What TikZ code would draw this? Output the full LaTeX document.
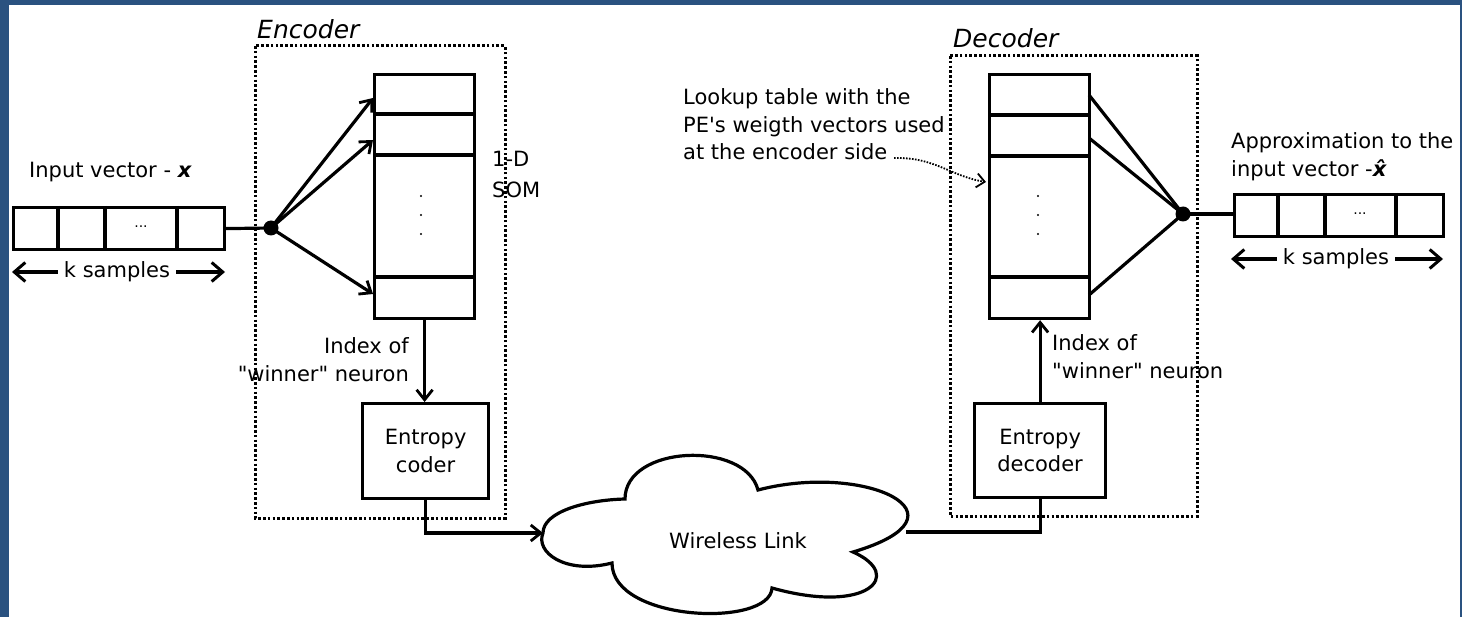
\documentclass[tikz,border=0pt]{standalone}
\usepackage{fontspec}
\setmainfont{DejaVu Sans}
\usetikzlibrary{arrows.meta}
\definecolor{framecol}{RGB}{42,82,128}
\begin{document}
\begin{tikzpicture}[x=1pt,y=-1pt,
  box/.style={draw, line width=3.2pt, inner sep=0pt, anchor=north west, align=center,
              font=\fontsize{21}{27.5}\selectfont},
  conn/.style={line width=3.2pt},
  divider/.style={line width=3.2pt},
  arr/.style={conn, -{Straight Barb[length=10pt,width=16pt,line width=2.8pt]}},
  bigarr/.style={line width=3.2pt, -{Straight Barb[length=11pt,width=19pt,line width=3pt]}},
  dotbox/.style={line width=3pt, dash pattern=on 2.6pt off 2.2pt},
  lbl/.style={inner sep=0pt, font=\fontsize{21}{27.5}\selectfont},
  title/.style={inner sep=0pt, font=\fontsize{25}{30}\selectfont\itshape},
  tiny/.style={inner sep=0pt, font=\fontsize{14}{15}\selectfont},
  junction/.style={circle, fill, inner sep=0pt, minimum size=15pt}
]
\useasboundingbox (0,0) rectangle (1462,617);
\fill[framecol] (0,0) rectangle (1462,617);
\fill[white] (9,5) rectangle (1460,617);

% ---------------- Encoder side ----------------
\draw[dotbox] (255,46) rectangle (505,518);
\node[title, anchor=west] (enctitle) at (257,29) {Encoder};

% input vector
\node[box, minimum width=211pt, minimum height=42pt] (inv) at (12,206) {};
\draw[divider] (58,206) -- (58,248);
\draw[divider] (105,206) -- (105,248);
\draw[divider] (177,206) -- (177,248);
\node[tiny] (invdots) at (141,227) {...};
\node[lbl, anchor=base west] (invlbl) at (29,178) {Input vector - \textbf{\textit{x}}};
\node[lbl] (ksamp1) at (117,272) {k samples};
\coordinate (k1l) at (12,272);
\coordinate (k1r) at (225,272);
\draw[bigarr] (ksamp1.west) ++(-6,0) -- (k1l);
\draw[bigarr] (ksamp1.east) ++(6,0) -- (k1r);

% junction
\node[junction] (split) at (271,228) {};
\draw[conn] (inv.east) -- (split.center);

% encoder SOM
\node[box, minimum width=100pt, minimum height=244pt] (esom) at (373,73) {};
\draw[divider] (373,114) -- (473,114);
\draw[divider] (373,155) -- (473,155);
\draw[divider] (373,277) -- (473,277);
\fill (421,196) circle (1.2pt) (421,215) circle (1.2pt) (421,234) circle (1.2pt);
\coordinate (e1) at (373,98);
\coordinate (e2) at (373,140);
\coordinate (e3) at (373,294);
\draw[arr] (split.center) -- (e1);
\draw[arr] (split.center) -- (e2);
\draw[arr] (split.center) -- (e3);
\node[lbl, anchor=north west, align=left] (somlbl) at (492,151) {1-D\\[3pt]SOM};

% entropy coder
\node[box, minimum width=126pt, minimum height=95pt] (ec) at (361,402) {Entropy\\coder};
\draw[arr] (esom.south) -- (esom.south |- ec.north);
\node[lbl, anchor=east, align=right] (eidx) at (409,359.5) {Index of\\\textquotedbl winner\textquotedbl{} neuron};

% ---------------- Cloud ----------------
\coordinate (cloudL) at (543,533);
\coordinate (cloudR) at (906,532);
\draw[line width=3.2pt]
  (543,533) .. controls (543,512) and (585,500) .. (625,499)
  .. controls (625,445) and (745,440) .. (758,490)
  .. controls (865,462) and (978,515) .. (853,552)
  .. controls (905,575) and (868,615) .. (772,588)
  .. controls (770,628) and (612,622) .. (612,563)
  .. controls (565,575) and (535,552) .. (543,533) -- cycle;
\node[lbl] (cloud) at (738,541) {Wireless Link};
\draw[arr] (ec.south) |- (cloudL);

% ---------------- Decoder side ----------------
\draw[dotbox] (950,56) rectangle (1197,516);
\node[title, anchor=west] (dectitle) at (953,38) {Decoder};

\node[box, minimum width=100pt, minimum height=244pt] (dsom) at (988,73) {};
\draw[divider] (988,115) -- (1088,115);
\draw[divider] (988,156) -- (1088,156);
\draw[divider] (988,277) -- (1088,277);
\fill (1038,196) circle (1.2pt) (1038,215) circle (1.2pt) (1038,234) circle (1.2pt);

\node[junction] (merge) at (1183,214) {};
\coordinate (d1) at (1089,95);
\coordinate (d2) at (1089,138);
\coordinate (d3) at (1089,295);
\draw[conn] (d1) -- (merge.center);
\draw[conn] (d2) -- (merge.center);
\draw[conn] (d3) -- (merge.center);

% output vector
\node[box, minimum width=209pt, minimum height=42pt] (outv) at (1233,193) {};
\draw[divider] (1278,193) -- (1278,235);
\draw[divider] (1325,193) -- (1325,235);
\draw[divider] (1396,193) -- (1396,235);
\node[tiny] (outdots) at (1360,214) {...};
\draw[conn] (merge.center) -- (merge.center -| outv.west);
\node[lbl, anchor=west, align=left] (outlbl) at (1231,156.5) {Approximation to the\\input vector -\textbf{\textit{\^{x}}}};
\node[lbl] (ksamp2) at (1336,259) {k samples};
\coordinate (k2l) at (1231,259);
\coordinate (k2r) at (1443,259);
\draw[bigarr] (ksamp2.west) ++(-6,0) -- (k2l);
\draw[bigarr] (ksamp2.east) ++(6,0) -- (k2r);

% entropy decoder
\node[box, minimum width=131pt, minimum height=94pt] (ed) at (973,402) {Entropy\\decoder};
\draw[arr] (ed.north) -- (ed.north |- dsom.south);
\node[lbl, anchor=west, align=left] (didx) at (1052,356.5) {Index of\\\textquotedbl winner\textquotedbl{} neuron};
\draw[conn] (cloudR) -| (ed.south);

% lookup table annotation
\node[lbl, anchor=west, align=left] (lookup) at (683,124.5) {Lookup table with the\\PE\textquotesingle s weigth vectors used\\at the encoder side};
\coordinate (lkstart) at (894,158);
\coordinate (lkend) at (986,182);
\draw[line width=1.8pt, dash pattern=on 1.6pt off 1.4pt, -{Straight Barb[length=8pt,width=14pt,line width=1.8pt]}]
  (lkstart) .. controls (935,157) and (950,176) .. (lkend);
\end{tikzpicture}
\end{document}
